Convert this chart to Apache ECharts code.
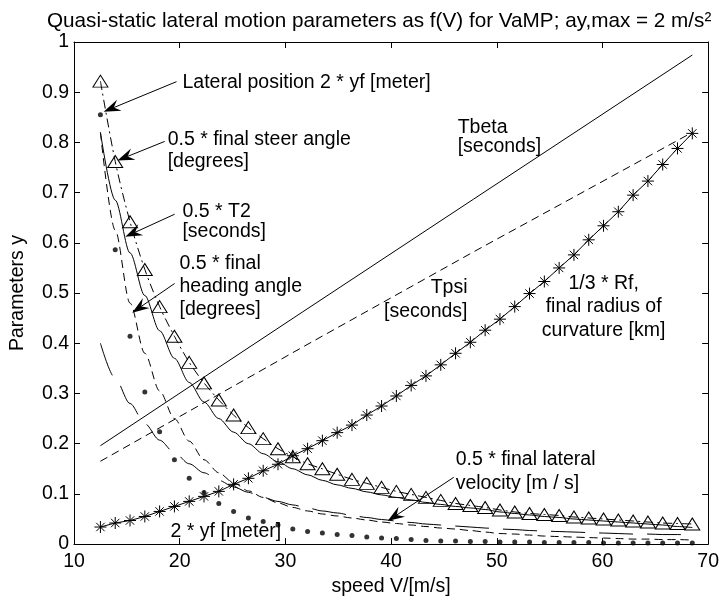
<!DOCTYPE html>
<html>
<head>
<meta charset="utf-8">
<script src="https://cdn.jsdelivr.net/npm/echarts@6/dist/echarts.min.js"></script>
<style>
html, body { margin: 0; padding: 0; background: #fff; }
#chart { width: 722px; height: 602px; }
</style>
</head>
<body>
<div id="chart"></div>
<script>
// speeds of the samples [m/s]
var speed = [12.5, 13.9, 15.3, 16.7, 18.1, 19.5, 20.9, 22.3, 23.7, 25.1, 26.5, 27.9, 29.3, 30.7,
  32.1, 33.5, 34.9, 36.3, 37.7, 39.1, 40.5, 41.9, 43.3, 44.7, 46.1, 47.5, 48.9, 50.3, 51.7, 53.1,
  54.5, 55.9, 57.3, 58.7, 60.1, 61.5, 62.9, 64.3, 65.7, 67.1, 68.5];

// 2 * yf [meter]  (dots)
var lateralPos = [0.855, 0.586, 0.414, 0.303, 0.224, 0.168, 0.131, 0.103, 0.081, 0.065, 0.052, 0.045,
  0.038, 0.030, 0.025, 0.022, 0.019, 0.017, 0.014, 0.012, 0.011, 0.009, 0.007, 0.006, 0.006, 0.005,
  0.005, 0.004, 0.004, 0.004, 0.003, 0.003, 0.003, 0.003, 0.002, 0.002, 0.002, 0.002, 0.002, 0.002, 0.002];

// 0.5 * final steer angle [degrees]  (triangles)
var steerAngle = [0.922, 0.762, 0.642, 0.547, 0.473, 0.414, 0.362, 0.321, 0.287, 0.257, 0.232, 0.210,
  0.190, 0.174, 0.160, 0.150, 0.139, 0.129, 0.121, 0.113, 0.105, 0.099, 0.093, 0.087, 0.081, 0.077,
  0.073, 0.068, 0.064, 0.061, 0.059, 0.057, 0.054, 0.052, 0.050, 0.048, 0.046, 0.044, 0.042, 0.041, 0.040];

// 1/3 * Rf, final radius of curvature [km]  (stars)
var radius = [0.034, 0.042, 0.047, 0.055, 0.065, 0.075, 0.085, 0.095, 0.105, 0.119, 0.131, 0.146,
  0.159, 0.176, 0.190, 0.206, 0.222, 0.237, 0.257, 0.275, 0.295, 0.316, 0.335, 0.357, 0.380, 0.402,
  0.426, 0.448, 0.473, 0.499, 0.523, 0.550, 0.576, 0.606, 0.634, 0.662, 0.695, 0.723, 0.756, 0.788, 0.818];

// 0.5 * T2 [seconds]  (solid)
var t2 = [0.820, 0.685, 0.580, 0.495, 0.425, 0.370, 0.322, 0.283, 0.250, 0.223, 0.200, 0.180,
  0.164, 0.150, 0.138, 0.127, 0.118, 0.111, 0.104, 0.098, 0.093, 0.088, 0.083, 0.079, 0.075, 0.072,
  0.069, 0.064, 0.061, 0.058, 0.055, 0.053, 0.050, 0.048, 0.046, 0.044, 0.042, 0.040, 0.038, 0.035, 0.033];

// 0.5 * final heading angle [degrees]  (dashed)
var heading = [0.820, 0.625, 0.480, 0.380, 0.305, 0.250, 0.205, 0.168, 0.142, 0.122, 0.106, 0.093,
  0.082, 0.073, 0.066, 0.060, 0.056, 0.052, 0.048, 0.044, 0.041, 0.038, 0.035, 0.032, 0.030, 0.027,
  0.024, 0.021, 0.020, 0.018, 0.016, 0.015, 0.014, 0.013, 0.012, 0.011, 0.010, 0.010, 0.009, 0.009, 0.008];

// 0.5 * final lateral velocity [m / s]  (long dashes)
var latVel = [0.400, 0.330, 0.280, 0.240, 0.207, 0.182, 0.160, 0.142, 0.127, 0.114, 0.103, 0.093,
  0.085, 0.078, 0.072, 0.066, 0.062, 0.057, 0.053, 0.049, 0.046, 0.043, 0.040, 0.038, 0.036, 0.034,
  0.032, 0.030, 0.029, 0.027, 0.026, 0.025, 0.024, 0.023, 0.022, 0.021, 0.020, 0.020, 0.019, 0.019, 0.018];

// time constants (straight lines)
var tSpeed = [12.5, 31.6, 47.8, 68.5];
var tBeta = [0.196, 0.462, 0.687, 0.974];
var tPsi = [0.165, 0.392, 0.582, 0.820];

var xTicks = [10, 20, 30, 40, 50, 60, 70];

function pairs(xs, ys) {
  return xs.map(function (x, i) { return [x, ys[i]]; });
}

var font = 'Liberation Sans, Arial, Helvetica, sans-serif';
var starPath = 'path://M0,-10L0,10M-10,0L10,0M-7,-7L7,7M-7,7L7,-7';

var chart = echarts.init(document.getElementById('chart'));

function xAx(pos, labels) {
  return {
    type: 'value', position: pos, min: xTicks[0], max: xTicks[xTicks.length - 1], interval: 10,
    name: labels ? 'speed V/[m/s]' : '', nameLocation: 'middle', nameGap: 32,
    nameTextStyle: { color: '#000', fontSize: 19.5, fontFamily: font },
    axisLine: { show: true, onZero: false, lineStyle: { color: '#000', width: 1 } },
    axisTick: { show: true, inside: true, length: 6, lineStyle: { color: '#000' } },
    axisLabel: { show: labels, color: '#000', fontSize: 19.5, fontFamily: font, margin: 8 },
    splitLine: { show: false }
  };
}
function yAx(pos, labels) {
  return {
    type: 'value', position: pos, min: 0, max: 1, interval: 0.1,
    name: labels ? 'Parameters y' : '', nameLocation: 'middle', nameGap: 46, nameRotate: 90,
    nameTextStyle: { color: '#000', fontSize: 19.5, fontFamily: font },
    axisLine: { show: true, onZero: false, lineStyle: { color: '#000', width: 1 } },
    axisTick: { show: true, inside: true, length: 6, lineStyle: { color: '#000' } },
    axisLabel: { show: labels, color: '#000', fontSize: 19.5, fontFamily: font, margin: 5 },
    splitLine: { show: false }
  };
}

function plainLine(data, type, smooth) {
  return {
    type: 'line', data: data, showSymbol: false, smooth: smooth, smoothMonotone: 'x',
    lineStyle: { color: '#000', width: 1, type: type }, z: 2
  };
}

var option = {
  animation: false,
  backgroundColor: '#fff',
  title: {
    text: 'Quasi-static lateral motion parameters as f(V) for VaMP; ay,max = 2 m/s²',
    left: 42, top: 6,
    textStyle: { color: '#000', fontSize: 20.7, fontWeight: 'normal', fontFamily: font }
  },
  grid: { left: 68, right: 11, top: 42, bottom: 55 },
  xAxis: [xAx('bottom', true), xAx('top', false)],
  yAxis: [yAx('left', true), yAx('right', false)],
  series: [
    plainLine(pairs(tSpeed, tBeta), 'solid', false),
    plainLine(pairs(tSpeed, tPsi), [8, 5], false),
    plainLine(pairs(speed, t2), 'solid', 0.3),
    plainLine(pairs(speed, heading), [8, 5], 0.3),
    plainLine(pairs(speed, latVel), [34, 14], 0.3),
    {
      type: 'line', data: pairs(speed, steerAngle), showAllSymbol: true,
      symbol: 'triangle', symbolSize: [15, 12], smooth: 0.3,
      itemStyle: { color: 'transparent', borderColor: '#000', borderWidth: 1 },
      lineStyle: { color: '#000', width: 1, type: [9, 4, 2, 4] }, z: 3
    },
    {
      type: 'line', data: pairs(speed, radius), showAllSymbol: true,
      symbol: starPath, symbolSize: 12,
      itemStyle: { color: 'transparent', borderColor: '#000', borderWidth: 1 },
      lineStyle: { color: '#000', width: 1 }, z: 3
    },
    {
      type: 'scatter', data: pairs(speed, lateralPos),
      symbol: 'circle', symbolSize: 5, itemStyle: { color: '#000' }, z: 3
    }
  ]
};
chart.setOption(option);

// annotations, placed in data coordinates
var notes = [
  { x: 20.26, y: 0.919, text: 'Lateral position 2 * yf [meter]' },
  { x: 18.86, y: 0.806, text: '0.5 * final steer angle' },
  { x: 18.86, y: 0.762, text: '[degrees]' },
  { x: 20.26, y: 0.663, text: '0.5 * T2' },
  { x: 20.26, y: 0.622, text: '[seconds]' },
  { x: 19.98, y: 0.558, text: '0.5 * final' },
  { x: 19.98, y: 0.513, text: 'heading angle' },
  { x: 19.98, y: 0.467, text: '[degrees]' },
  { x: 46.30, y: 0.830, text: 'Tbeta' },
  { x: 46.30, y: 0.792, text: '[seconds]' },
  { x: 47.23, y: 0.511, text: 'Tpsi', align: 'right' },
  { x: 47.23, y: 0.463, text: '[seconds]', align: 'right' },
  { x: 60.11, y: 0.519, text: '1/3 * Rf,', align: 'center' },
  { x: 60.11, y: 0.473, text: 'final radius of', align: 'center' },
  { x: 60.11, y: 0.426, text: 'curvature [km]', align: 'center' },
  { x: 46.11, y: 0.168, text: '0.5 * final lateral' },
  { x: 46.11, y: 0.121, text: 'velocity [m / s]' },
  { x: 19.14, y: 0.024, text: '2 * yf [meter]' }
];
var arrows = [
  { from: [19.70, 0.921], to: [12.80, 0.861] },
  { from: [18.58, 0.802], to: [14.11, 0.764] },
  { from: [19.52, 0.657], to: [14.85, 0.612] },
  { from: [19.52, 0.519], to: [15.51, 0.461] },
  { from: [45.93, 0.133], to: [39.67, 0.046] }
];

var elements = [];
notes.forEach(function (n) {
  var p = chart.convertToPixel({ gridIndex: 0 }, [n.x, n.y]);
  elements.push({
    type: 'text', x: p[0], y: p[1], z: 10,
    style: {
      text: n.text, fill: '#000', fontSize: 19.5, fontFamily: font,
      align: n.align || 'left', textAlign: n.align || 'left',
      verticalAlign: 'middle', textVerticalAlign: 'middle'
    }
  });
});
arrows.forEach(function (a) {
  var p0 = chart.convertToPixel({ gridIndex: 0 }, a.from);
  var p1 = chart.convertToPixel({ gridIndex: 0 }, a.to);
  var dx = p1[0] - p0[0], dy = p1[1] - p0[1];
  var len = Math.sqrt(dx * dx + dy * dy);
  var ux = dx / len, uy = dy / len, nx = -uy, ny = ux;
  var headLen = 17, headW = 6, notch = 11;
  var bx = p1[0] - ux * headLen, by = p1[1] - uy * headLen;
  var mx = p1[0] - ux * notch, my = p1[1] - uy * notch;
  elements.push({
    type: 'line', z: 10,
    shape: { x1: p0[0], y1: p0[1], x2: mx, y2: my },
    style: { stroke: '#000', lineWidth: 1 }
  });
  elements.push({
    type: 'polygon', z: 10,
    shape: { points: [[p1[0], p1[1]], [bx + nx * headW, by + ny * headW], [mx, my], [bx - nx * headW, by - ny * headW]] },
    style: { fill: '#000' }
  });
});
chart.setOption({ graphic: elements });
</script>
</body>
</html>
